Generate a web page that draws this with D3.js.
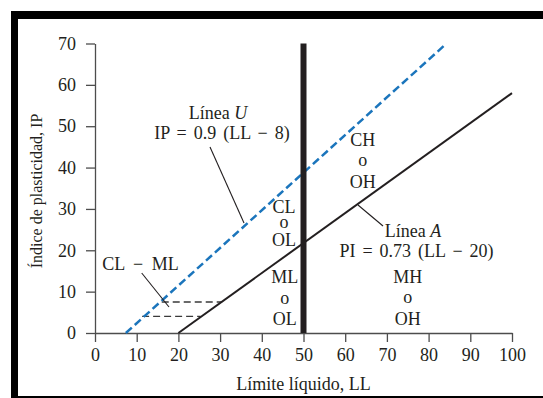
<!DOCTYPE html>
<html>
<head>
<meta charset="utf-8">
<title>Carta de plasticidad</title>
<style type="text/css">
	body { margin: 0; background: white; }
	#chart { display: block; }
	.lbl, .tick text {
		font-family: "Liberation Serif", "DejaVu Serif", serif;
		font-size: 18px;
		fill: #231f20;
	}
	.eq { word-spacing: 2.5px; }
	.domain, .tick line { stroke: #4d4d4d; stroke-width: 1.3px; }
</style>
</head>
<body>
<svg id="chart" width="543" height="398"></svg>
<script src="https://cdn.jsdelivr.net/npm/d3@7"></script>
<script>

// ticks
var xTicks = [0, 10, 20, 30, 40, 50, 60, 70, 80, 90, 100];
var yTicks = [0, 10, 20, 30, 40, 50, 60, 70];

// lines (LL, IP)
var uLineLL = [7.4, 84.3],  uLineIP = [0, 70];
var aLineLL = [20, 100],    aLineIP = [0, 58];
var llDivideLL = [50, 50],  llDivideIP = [0, 70];
var clmlLow = {ll: [11.3, 25.3], ip: 4};
var clmlHigh = {ll: [16, 30.5], ip: 7.5};

var zoneLabels = [
	{lines: ['CL', 'o', 'OL'], ll: 45.3},
	{lines: ['ML', 'o', 'OL'], ll: 45.5},
	{lines: ['CH', 'o', 'OH'], ll: 64.2},
	{lines: ['MH', 'o', 'OH'], ll: 75}
];

var svg = d3.select('#chart');

// black frame of the scanned figure
svg.append('rect').attr('x', 11).attr('y', 11).attr('width', 600).attr('height', 400).attr('fill', 'black');
svg.append('rect').attr('x', 18).attr('y', 19).attr('width', 600).attr('height', 377).attr('fill', 'white');

var x = d3.scaleLinear().domain([0, 100]).range([95, 512]);
var y = d3.scaleLinear().domain([0, 70]).range([333, 43.5]);

svg.append('g')
	.attr('transform', 'translate(0,' + y(0) + ')')
	.call(d3.axisBottom(x).tickValues(xTicks).tickSize(9).tickSizeOuter(0).tickPadding(6))
	.selectAll('.tick text').attr('class', 'lbl');

svg.append('g')
	.attr('transform', 'translate(' + x(0) + ',0)')
	.call(d3.axisLeft(y).tickValues(yTicks).tickSize(9).tickSizeOuter(0).tickPadding(10))
	.selectAll('.tick text').attr('class', 'lbl');

svg.selectAll('.domain').attr('fill', 'none');

// axis titles
svg.append('text').attr('class', 'lbl')
	.attr('x', 303.5).attr('y', 390)
	.attr('text-anchor', 'middle')
	.text('Límite líquido, LL');

svg.append('text').attr('class', 'lbl')
	.attr('transform', 'translate(42,191) rotate(-90)')
	.attr('text-anchor', 'middle')
	.style('font-size', '16px')
	.text('Índice de plasticidad, IP');

var line = d3.line().x(function(d) { return x(d[0]); }).y(function(d) { return y(d[1]); });

function pts(a, b) { return a.map(function(v, i) { return [v, b[i]]; }); }

// CL-ML band
[clmlLow, clmlHigh].forEach(function(s) {
	svg.append('path')
		.attr('d', line([[s.ll[0], s.ip], [s.ll[1], s.ip]]))
		.attr('stroke', '#3a3a3a').attr('stroke-width', 1.3)
		.attr('stroke-dasharray', '7,4').attr('fill', 'none');
});

// A line
svg.append('path')
	.attr('d', line(pts(aLineLL, aLineIP)))
	.attr('stroke', '#231f20').attr('stroke-width', 2).attr('fill', 'none');

// U line
svg.append('path')
	.attr('d', line(pts(uLineLL, uLineIP)))
	.attr('stroke', '#1b75bc').attr('stroke-width', 2.5)
	.attr('stroke-dasharray', '8,4').attr('fill', 'none');

// LL = 50 divide
svg.append('path')
	.attr('d', line(pts(llDivideLL, llDivideIP)))
	.attr('stroke', '#231f20').attr('stroke-width', 6).attr('fill', 'none');

// leader lines (pixel positions of the annotation callouts)
var leaders = [
	[[141.7, 273], [169, 307]],
	[[210, 147], [244, 223]],
	[[358, 205], [383, 226]]
];
leaders.forEach(function(l) {
	svg.append('line')
		.attr('x1', l[0][0]).attr('y1', l[0][1]).attr('x2', l[1][0]).attr('y2', l[1][1])
		.attr('stroke', '#231f20').attr('stroke-width', 1.1);
});

// zone labels: baselines of each stack
var zoneBase = [[212.5, 227.5, 246], [283, 304, 325], [146, 166, 188], [283, 303, 325]];
zoneLabels.forEach(function(z, k) {
	z.lines.forEach(function(t, j) {
		svg.append('text').attr('class', 'lbl')
			.attr('x', x(z.ll)).attr('y', zoneBase[k][j])
			.attr('text-anchor', 'middle')
			.text(t);
	});
});

svg.append('text').attr('class', 'lbl eq')
	.attr('x', 140.5).attr('y', 270).attr('text-anchor', 'middle')
	.style('word-spacing', '4px')
	.text('CL \u2212 ML');

var tu = svg.append('text').attr('class', 'lbl')
	.attr('x', 218).attr('y', 119).attr('text-anchor', 'middle');
tu.append('tspan').text('Línea ');
tu.append('tspan').attr('font-style', 'italic').text('U');

svg.append('text').attr('class', 'lbl eq')
	.attr('x', 222).attr('y', 139).attr('text-anchor', 'middle')
	.text('IP = 0.9 (LL \u2212 8)');

var ta = svg.append('text').attr('class', 'lbl')
	.attr('x', 413).attr('y', 237).attr('text-anchor', 'middle');
ta.append('tspan').text('Línea ');
ta.append('tspan').attr('font-style', 'italic').text('A');

svg.append('text').attr('class', 'lbl eq')
	.attr('x', 416.5).attr('y', 257).attr('text-anchor', 'middle')
	.text('PI = 0.73 (LL \u2212 20)');

</script>
</body>
</html>
